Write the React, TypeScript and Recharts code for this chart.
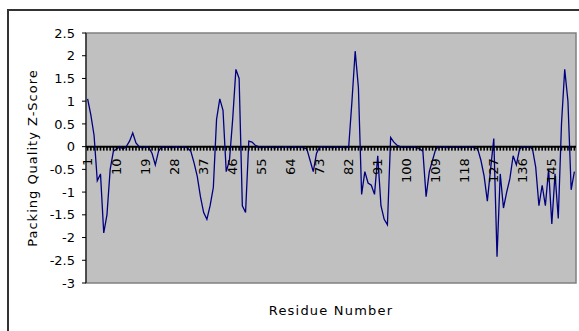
import {
  LineChart,
  Line,
  XAxis,
  YAxis,
  CartesianGrid,
  ReferenceArea,
  ReferenceLine,
} from "recharts";

// residue numbers 1..152
const residues = Array.from({ length: 152 }, (_, i) => i + 1);

const zScores = [
  1.05, 0.7, 0.25, -0.75, -0.6, -1.9, -1.5, -0.5, -0.1, -0.05,
  0, -0.05, 0, 0.12, 0.3, 0.08, 0, -0.03, 0, -0.02,
  -0.15, -0.4, -0.1, 0, -0.02, 0, -0.03, 0, 0, -0.02,
  0, -0.03, -0.1, -0.35, -0.65, -1.1, -1.45, -1.6, -1.3, -0.9,
  0.6, 1.05, 0.8, -0.55, -0.3, 0.6, 1.7, 1.5, -1.3, -1.45,
  0.12, 0.1, 0.03, 0, -0.03, 0, -0.02, 0, -0.03, 0,
  -0.02, 0, 0, -0.03, 0, -0.02, 0, -0.03, -0.05, -0.3,
  -0.55, -0.15, 0, 0, -0.02, 0, -0.03, 0, -0.02, 0,
  -0.03, 0, 1.0, 2.1, 1.3, -1.05, -0.55, -0.8, -0.85, -1.05,
  -0.2, -1.3, -1.6, -1.72, 0.2, 0.1, 0.03, 0, -0.02, 0,
  -0.03, 0, -0.02, -0.05, -0.1, -1.1, -0.55, -0.3, -0.05, 0,
  -0.02, 0, -0.03, 0, -0.02, 0, -0.03, 0, -0.02, 0,
  -0.03, -0.05, -0.3, -0.65, -1.2, -0.5, 0.18, -2.42, -0.6, -1.35,
  -1.0, -0.7, -0.2, -0.4, -0.05, 0, -0.02, 0, -0.05, -0.45,
  -1.3, -0.85, -1.3, -0.5, -1.7, -0.6, -1.58, 0.5, 1.7, 1.0,
  -0.95, -0.55,
];

const yTicks = [-3, -2.5, -2, -1.5, -1, -0.5, 0, 0.5, 1, 1.5, 2, 2.5];
const Y_MIN = -3;
const Y_MAX = 2.5;
const LABEL_EVERY = 9;

const data = residues.map((r, i) => ({ residue: r, z: zScores[i] }));

const W = 579;
const H = 331;
const TOP = 33;
const X_AXIS_H = 48;
const Y_AXIS_W = 86;
const PLOT_H = H - TOP - X_AXIS_H;
const zeroY = TOP + ((Y_MAX - 0) / (Y_MAX - Y_MIN)) * PLOT_H;

const FONT = "'DejaVu Sans', sans-serif";

// category axis crosses at 0: tick marks hang from the zero line,
// every 9th residue gets a label reading bottom-to-top
const ResidueTick = (props: any) => {
  const { x, payload } = props;
  const value = Number(payload?.value);
  const showLabel = (value - 1) % LABEL_EVERY === 0;
  return (
    <g>
      <rect x={x - 0.8} y={zeroY} width={1.6} height={4} fill="#000" />
      {showLabel && (
        <foreignObject x={x - 8} y={zeroY + 11} width={16} height={40}>
          <div
            style={{
              width: 16,
              height: 40,
              writingMode: "vertical-rl",
              transform: "rotate(180deg)",
              textAlign: "end",
              lineHeight: "16px",
              fontSize: 13,
              fontFamily: FONT,
              color: "#000",
              whiteSpace: "nowrap",
            }}
          >
            {value}
          </div>
        </foreignObject>
      )}
    </g>
  );
};

const YTitle = ({ viewBox }: any) => {
  const cx = (viewBox?.x ?? 0) + 32;
  const cy = (viewBox?.y ?? TOP) + (viewBox?.height ?? PLOT_H) / 2;
  return (
    <text
      x={cx}
      y={cy}
      transform={`rotate(-90, ${cx}, ${cy})`}
      textAnchor="middle"
      dy="0.36em"
      fontSize={13}
      fontFamily={FONT}
      letterSpacing={1}
      fill="#000"
    >
      Packing Quality Z-Score
    </text>
  );
};

const XTitle = ({ viewBox }: any) => {
  const cx = (viewBox?.x ?? 0) + (viewBox?.width ?? 0) / 2;
  const cy = (viewBox?.y ?? 0) + 27;
  return (
    <text
      x={cx}
      y={cy}
      textAnchor="middle"
      dy="0.36em"
      fontSize={13}
      fontFamily={FONT}
      letterSpacing={1.2}
      fill="#000"
    >
      Residue Number
    </text>
  );
};

export default function App() {
  return (
    <div
      style={{
        position: "absolute",
        left: 0,
        top: 0,
        width: W,
        height: H,
        overflow: "hidden",
        background: "#fff",
      }}
    >
      <div
        style={{
          position: "absolute",
          left: 7,
          top: 9,
          width: 640,
          height: 400,
          border: "2px solid #333",
        }}
      />
      <div style={{ position: "absolute", left: 0, top: 0 }}>
        <LineChart
          width={W}
          height={H}
          data={data}
          margin={{ top: TOP, right: 3, bottom: 0, left: 0 }}
          style={{ fontFamily: FONT }}
        >
          <CartesianGrid fill="#c0c0c0" horizontal={false} vertical={false} />
          <ReferenceArea
            y1={Y_MIN}
            y2={Y_MAX}
            fill="none"
            stroke="#808080"
            strokeWidth={1.5}
            ifOverflow="visible"
          />
          <ReferenceLine y={0} stroke="#000" strokeWidth={2} />
          <Line
            type="linear"
            dataKey="z"
            stroke="#000080"
            strokeWidth={1.3}
            dot={false}
            isAnimationActive={false}
          />
          <XAxis
            dataKey="residue"
            type="category"
            scale="band"
            interval={0}
            height={X_AXIS_H}
            axisLine={false}
            tickLine={false}
            tick={<ResidueTick />}
            label={<XTitle />}
          />
          <YAxis
            type="number"
            domain={[Y_MIN, Y_MAX]}
            ticks={yTicks}
            width={Y_AXIS_W}
            stroke="#000"
            tickSize={4}
            tickMargin={7}
            tick={{ fill: "#000", fontSize: 13, fontFamily: FONT }}
            label={<YTitle />}
          />
        </LineChart>
      </div>
    </div>
  );
}
